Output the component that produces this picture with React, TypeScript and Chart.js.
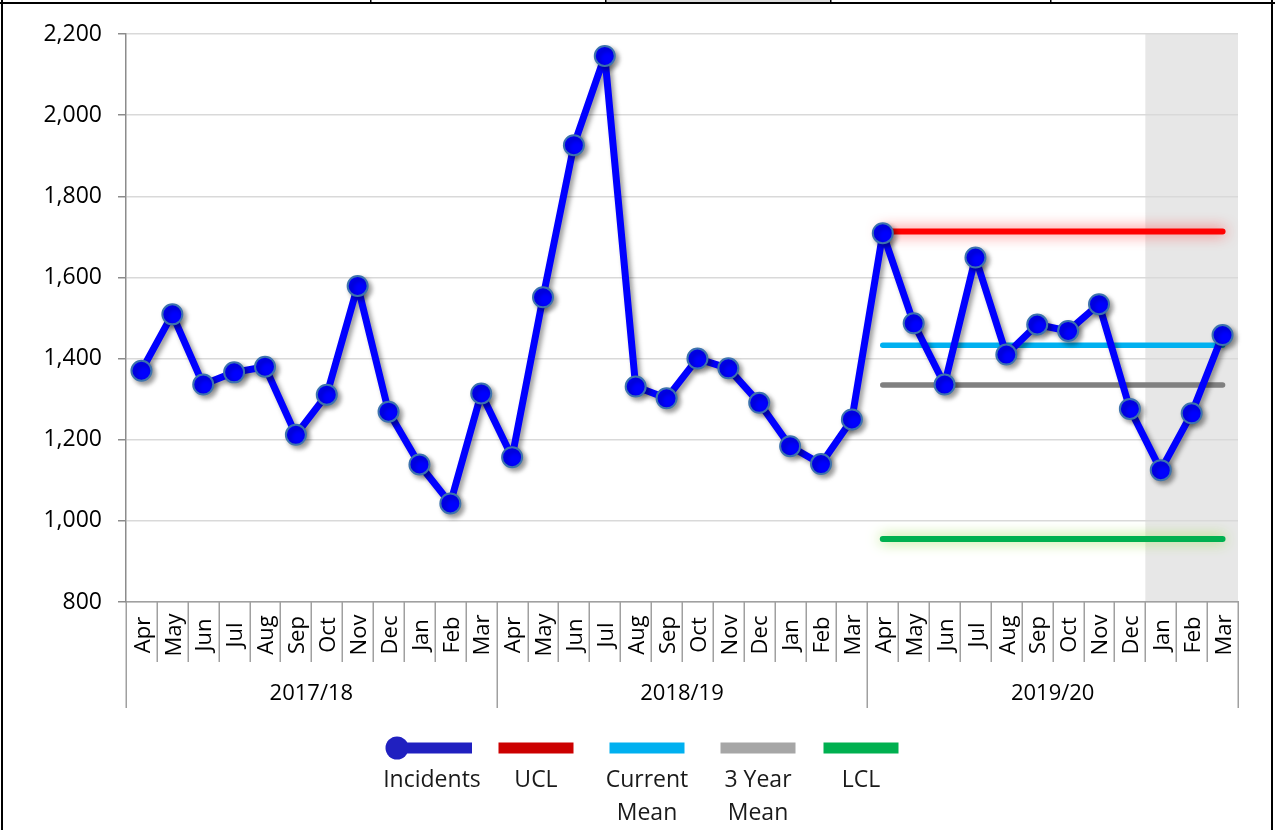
import React, { useEffect, useRef } from "react";
import { Chart, registerables } from "chart.js";

Chart.register(...registerables);

// ---- Data ----
const MONTHS = ["Apr", "May", "Jun", "Jul", "Aug", "Sep", "Oct", "Nov", "Dec", "Jan", "Feb", "Mar"];
const YEARS = ["2017/18", "2018/19", "2019/20"];

const INCIDENTS_1718 = [1370, 1509, 1336, 1366, 1380, 1212, 1311, 1579, 1269, 1139, 1043, 1314];
const INCIDENTS_1819 = [1157, 1551, 1926, 2146, 1331, 1302, 1400, 1376, 1291, 1184, 1140, 1250];
const INCIDENTS_1920 = [1709, 1487, 1336, 1649, 1410, 1484, 1468, 1534, 1276, 1125, 1265, 1458];

const UCL_VALUE = 1713;
const CURRENT_MEAN_VALUE = 1433;
const THREE_YEAR_MEAN_VALUE = 1335;
const LCL_VALUE = 955;

const Y_MIN = 800;
const Y_MAX = 2200;
const Y_STEP = 200;

const SHADE_FROM_INDEX = 33; // Jan 2019/20 onwards shaded

const LEGEND_LINES = [["Incidents"], ["UCL"], ["Current", "Mean"], ["3 Year", "Mean"], ["LCL"]];

// ---- Derived ----
const LABELS: string[] = [];
YEARS.forEach(() => MONTHS.forEach((m) => LABELS.push(m)));
const INCIDENTS = [...INCIDENTS_1718, ...INCIDENTS_1819, ...INCIDENTS_1920];
const currentYearOnly = (v: number) =>
  LABELS.map((_, i) => (i >= LABELS.length - MONTHS.length ? v : null));

const FONT = "'Open Sans', 'DejaVu Sans', sans-serif";
const fmt = new Intl.NumberFormat("en-US");

const decorPlugin = {
  id: "decor",
  beforeDraw(chart: any) {
    const { ctx, chartArea, scales } = chart;
    const x = scales.x;
    const left = x.getPixelForValue(SHADE_FROM_INDEX - 0.5);
    ctx.save();
    ctx.fillStyle = "#e7e7e7";
    ctx.fillRect(left, chartArea.top, chartArea.right - left, chartArea.bottom - chartArea.top);
    ctx.restore();
  },
  beforeDatasetDraw(chart: any, args: any) {
    const ds = chart.data.datasets[args.index];
    const ctx = chart.ctx;
    ctx.save();
    if (ds.glowColor) {
      ctx.shadowColor = ds.glowColor;
      ctx.shadowBlur = ds.glowBlur || 10;
      ctx.shadowOffsetX = ds.glowOffset || 0;
      ctx.shadowOffsetY = ds.glowOffset || 0;
    }
  },
  afterDatasetDraw(chart: any) {
    chart.ctx.restore();
  },
  afterDraw(chart: any) {
    const { ctx, chartArea, scales } = chart;
    const x = scales.x;
    const n = LABELS.length;
    const base = chartArea.bottom;
    ctx.save();
    // separators
    ctx.strokeStyle = "#a0a0a0";
    ctx.lineWidth = 1.5;
    for (let i = 0; i <= n; i++) {
      const px = Math.round(x.getPixelForValue(i - 0.5)) + 0.25;
      const major = i % MONTHS.length === 0;
      ctx.beginPath();
      ctx.moveTo(px, base);
      ctx.lineTo(px, major ? base + 106 : base + 60);
      ctx.stroke();
    }
    // month labels
    ctx.fillStyle = "#000";
    ctx.font = `22px ${FONT}`;
    ctx.textAlign = "center";
    ctx.textBaseline = "middle";
    LABELS.forEach((lab, i) => {
      const px = x.getPixelForValue(i);
      ctx.save();
      ctx.translate(px + 2, base + 33);
      ctx.rotate(-Math.PI / 2);
      ctx.fillText(lab, 0, 0);
      ctx.restore();
    });
    // year labels
    YEARS.forEach((yr, g) => {
      const a = x.getPixelForValue(g * MONTHS.length - 0.5);
      const b = x.getPixelForValue((g + 1) * MONTHS.length - 0.5);
      ctx.fillText(yr, (a + b) / 2, base + 92);
    });

    // legend
    const centers = [432, 536, 647, 758, 861];
    const colors = ["#2020c0", "#cc0000", "#00b0f0", "#a6a6a6", "#00b050"];
    const symY = 748;
    centers.forEach((c, i) => {
      ctx.fillStyle = colors[i];
      if (i === 0) {
        ctx.fillRect(397, symY - 5.5, 75, 11);
        ctx.beginPath();
        ctx.arc(397, symY, 11.5, 0, Math.PI * 2);
        ctx.fill();
      } else {
        ctx.fillRect(c - 37.5, symY - 5.5, 75, 11);
      }
      ctx.fillStyle = "#1a1a1a";
      ctx.font = `23px ${FONT}`;
      ctx.textAlign = "center";
      ctx.textBaseline = "alphabetic";
      LEGEND_LINES[i].forEach((t, k) => ctx.fillText(t, c, 787 + k * 33));
    });

    // frame
    ctx.fillStyle = "#dcdcdc";
    ctx.fillRect(606, 0, 224, 2);
    ctx.fillStyle = "#000";
    ctx.fillRect(0, 2, chart.width, 2);
    ctx.fillRect(1, 0, 2, chart.height);
    ctx.fillRect(chart.width - 4, 0, 2, chart.height);
    [370, 605, 830, 1050].forEach((vx) => ctx.fillRect(vx, 0, 1.5, 3));
    ctx.restore();
  },
};

export default function App() {
  const ref = useRef<HTMLCanvasElement | null>(null);

  useEffect(() => {
    document.body.style.margin = "0";
    const canvas = ref.current;
    if (!canvas) return;
    const chart = new Chart(canvas, {
      type: "line",
      data: {
        labels: LABELS,
        datasets: [
          {
            label: "Incidents",
            data: INCIDENTS,
            borderColor: "#0000ff",
            borderWidth: 7,
            borderJoinStyle: "round",
            pointRadius: 10,
            pointBackgroundColor: "#0000ff",
            pointBorderColor: "#3d73ae",
            pointBorderWidth: 2,
            tension: 0,
            order: 0,
            glowColor: "rgba(0,0,0,0.4)",
            glowBlur: 5,
            glowOffset: 3,
          } as any,
          {
            label: "UCL",
            data: currentYearOnly(UCL_VALUE),
            borderColor: "#ff0000",
            borderWidth: 6,
            borderCapStyle: "round",
            pointRadius: 0,
            order: 1,
            glowColor: "rgba(255,80,80,0.95)",
            glowBlur: 14,
          } as any,
          {
            label: "Current Mean",
            data: currentYearOnly(CURRENT_MEAN_VALUE),
            borderColor: "#00b0f0",
            borderWidth: 5.5,
            borderCapStyle: "round",
            pointRadius: 0,
            order: 2,
          } as any,
          {
            label: "3 Year Mean",
            data: currentYearOnly(THREE_YEAR_MEAN_VALUE),
            borderColor: "#808080",
            borderWidth: 5.5,
            borderCapStyle: "round",
            pointRadius: 0,
            order: 3,
          } as any,
          {
            label: "LCL",
            data: currentYearOnly(LCL_VALUE),
            borderColor: "#00b050",
            borderWidth: 6,
            borderCapStyle: "round",
            pointRadius: 0,
            order: 4,
            glowColor: "rgba(165,222,95,1)",
            glowBlur: 14,
          } as any,
        ],
      },
      options: {
        responsive: false,
        animation: false,
        devicePixelRatio: 1,
        layout: { padding: { top: 34, right: 37, bottom: 0, left: 0 } },
        plugins: { legend: { display: false }, tooltip: { enabled: false } },
        scales: {
          x: {
            type: "category",
            offset: true,
            grid: { display: false, drawTicks: false },
            border: { display: true, color: "#a0a0a0", width: 1.5 },
            ticks: { display: false },
            afterFit(s: any) {
              s.height = 228;
            },
          },
          y: {
            min: Y_MIN,
            max: Y_MAX,
            ticks: {
              stepSize: Y_STEP,
              color: "#000",
              font: { family: FONT, size: 23 },
              padding: 16,
              callback: (v: any) => fmt.format(Number(v)),
            },
            grid: { color: "#d9d9d9", lineWidth: 1.5, tickLength: 8, tickColor: "#8c8c8c" },
            border: { color: "#8c8c8c", width: 1.5 },
            afterFit(s: any) {
              s.width = 126;
            },
          },
        },
      } as any,
      plugins: [decorPlugin],
    });
    return () => chart.destroy();
  }, []);

  return (
    <div style={{ width: 1275, height: 830, position: "relative", background: "#fff" }}>
      <canvas ref={ref} width={1275} height={830} style={{ display: "block" }} />
    </div>
  );
}
